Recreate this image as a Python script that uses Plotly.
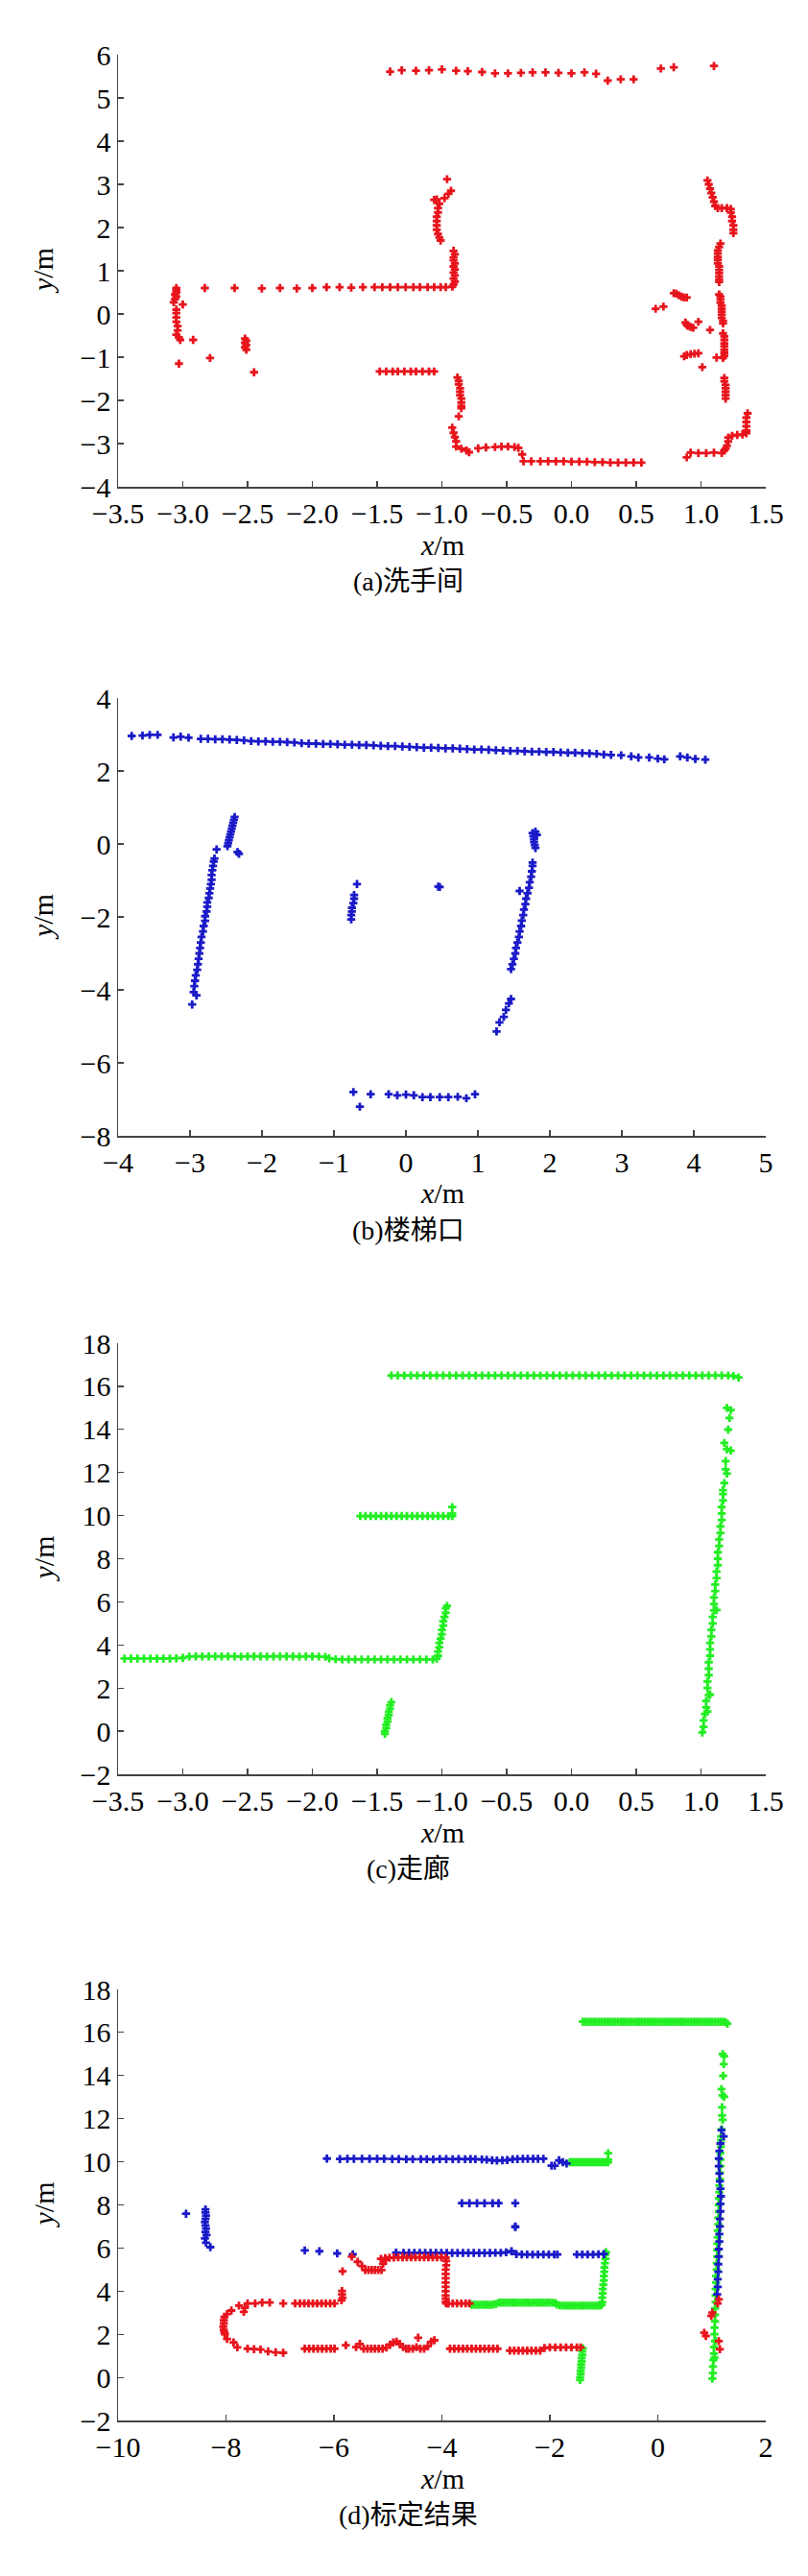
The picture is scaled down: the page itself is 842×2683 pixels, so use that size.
import plotly.graph_objects as go

# ---------------- (a) 洗手间 (red) ----------------
WASH_TOP_X = [-1.40,-1.31,-1.20,-1.10,-1.00,-0.89,-0.80,-0.69,-0.59,-0.49,-0.39,-0.30,-0.20,-0.10,0.00,0.10,0.19,0.28,0.38,0.48,0.69,0.79,1.10]
WASH_TOP_Y = [5.61,5.64,5.63,5.64,5.66,5.63,5.62,5.60,5.57,5.57,5.58,5.59,5.59,5.58,5.57,5.59,5.56,5.40,5.43,5.43,5.68,5.71,5.74]
WASH_LW_X = [-3.05,-3.05,-3.05,-3.06,-3.05,-3.06,-3.07,-3.00,-3.05,-3.05,-3.05,-3.05,-3.04,-3.04,-3.05,-3.03,-3.02,-2.92,-3.03,-2.79]
WASH_LW_Y = [0.60,0.55,0.50,0.45,0.40,0.34,0.27,0.22,0.10,0.02,-0.08,-0.18,-0.28,-0.38,-0.48,-0.54,-0.60,-0.60,-1.15,-1.02]
WASH_LO_X = [-2.52,-2.51,-2.52,-2.51,-2.52,-2.51,-2.45]
WASH_LO_Y = [-0.57,-0.62,-0.67,-0.72,-0.77,-0.83,-1.35]
WASH_MR_X = [-2.83,-2.60,-2.39,-2.25,-2.12,-2.00,-1.89,-1.79,-1.70,-1.61,-1.52,-1.46,-1.40,-1.34,-1.28,-1.22,-1.17,-1.11,-1.06,-1.01,-0.97,-0.92]
WASH_MR_Y = [0.60,0.60,0.59,0.60,0.59,0.60,0.62,0.62,0.61,0.62,0.62,0.62,0.62,0.62,0.62,0.62,0.62,0.62,0.62,0.62,0.62,0.63]
WASH_MC_X = [-0.91,-0.90,-0.91,-0.90,-0.91,-0.90,-0.91,-0.90,-0.91,-0.91,-0.90,-0.91]
WASH_MC_Y = [0.68,0.75,0.82,0.89,0.96,1.03,1.10,1.17,1.24,1.31,1.38,1.46]
WASH_UC_X = [-1.06,-1.04,-1.02,-1.03,-1.03,-1.04,-1.04,-1.04,-1.04,-1.03,-1.02,-1.01,-0.98,-0.95,-0.93,-0.96]
WASH_UC_Y = [2.64,2.65,2.55,2.45,2.35,2.25,2.15,2.05,1.95,1.85,1.77,1.70,2.68,2.78,2.85,3.12]
WASH_LR_X = [-1.48,-1.43,-1.38,-1.34,-1.29,-1.24,-1.20,-1.15,-1.10,-1.06]
WASH_LR_Y = [-1.33,-1.33,-1.33,-1.33,-1.33,-1.33,-1.33,-1.33,-1.33,-1.33]
WASH_LC_X = [-0.88,-0.87,-0.87,-0.86,-0.86,-0.86,-0.85,-0.85,-0.85,-0.85,-0.87,-0.92,-0.91,-0.90,-0.89,-0.89,-0.85,-0.81,-0.79]
WASH_LC_Y = [-1.47,-1.55,-1.63,-1.72,-1.80,-1.88,-1.96,-2.05,-2.13,-2.18,-2.37,-2.63,-2.75,-2.85,-2.95,-3.07,-3.12,-3.16,-3.20]
WASH_BT_X = [-0.72,-0.66,-0.59,-0.54,-0.49,-0.44,-0.41,-0.38,-0.37,-0.31,-0.24,-0.18,-0.12,-0.06,0.00,0.06,0.12,0.18,0.24,0.30,0.36,0.42,0.48,0.54]
WASH_BT_Y = [-3.11,-3.09,-3.08,-3.07,-3.07,-3.08,-3.10,-3.25,-3.41,-3.41,-3.41,-3.41,-3.41,-3.41,-3.42,-3.42,-3.42,-3.43,-3.43,-3.44,-3.44,-3.44,-3.44,-3.44]
WASH_RT_X = [1.05,1.06,1.07,1.08,1.09,1.10,1.11,1.13,1.16,1.20,1.23,1.23,1.24,1.24,1.25,1.25,1.25]
WASH_RT_Y = [3.09,3.00,2.90,2.80,2.70,2.60,2.50,2.45,2.45,2.45,2.43,2.35,2.25,2.15,2.05,1.95,1.87]
WASH_R1_X = [1.15,1.14,1.13,1.13,1.13,1.13,1.13,1.14,1.14,1.14,1.14,1.14,1.14]
WASH_R1_Y = [1.63,1.55,1.47,1.40,1.32,1.25,1.17,1.10,1.02,0.95,0.87,0.80,0.74]
WASH_R2_X = [1.14,1.15,1.15,1.15,1.16,1.16,1.16,1.16,1.16,1.17,1.17]
WASH_R2_Y = [0.45,0.40,0.33,0.26,0.19,0.12,0.05,-0.02,-0.09,-0.16,-0.22]
WASH_R3_X = [1.17,1.18,1.18,1.18,1.18,1.18,1.18,1.18,1.17,1.12]
WASH_R3_Y = [-0.45,-0.52,-0.60,-0.68,-0.75,-0.83,-0.90,-0.97,-1.02,-1.01]
WASH_R4_X = [1.18,1.18,1.19,1.19,1.19,1.19,1.19]
WASH_R4_Y = [-1.48,-1.56,-1.64,-1.72,-1.80,-1.88,-1.96]
WASH_RB_X = [1.36,1.35,1.35,1.35,1.35,1.35,1.32,1.28,1.24,1.21,1.21,1.20,1.19,1.18,1.16,1.10,1.04,0.98,0.92,0.89]
WASH_RB_Y = [-2.30,-2.40,-2.50,-2.60,-2.70,-2.76,-2.79,-2.80,-2.82,-2.86,-2.95,-3.05,-3.12,-3.16,-3.22,-3.21,-3.22,-3.22,-3.21,-3.32]
WASH_OB_X = [0.79,0.81,0.83,0.85,0.87,0.89,0.65,0.71,0.88,0.89,0.90,0.92,0.94,0.98,1.07,0.87,0.89,0.92,0.95,0.98,1.01]
WASH_OB_Y = [0.48,0.47,0.43,0.40,0.38,0.38,0.12,0.17,-0.20,-0.25,-0.28,-0.30,-0.32,-0.18,-0.37,-0.98,-0.95,-0.93,-0.92,-0.91,-1.23]

# ---------------- (b) 楼梯口 (blue) ----------------
STAIR_TL_X = [-3.81,-3.66,-3.56,-3.45,-3.23,-3.13,-3.02]
STAIR_TL_Y = [2.96,2.97,2.99,2.99,2.92,2.94,2.91]
STAIR_TD_X = [-2.85,-2.75,-2.65,-2.55,-2.45,-2.35,-2.25,-2.15,-2.05,-1.95,-1.85,-1.75,-1.65,-1.55,-1.45,-1.35,-1.25,-1.15,-1.05,-0.95,
              -0.85,-0.75,-0.65,-0.55,-0.45,-0.35,-0.25,-0.15,-0.05,0.05,0.15,0.25,0.35,0.45,0.55,0.65,0.75,0.85,0.95,1.05,
              1.15,1.25,1.35,1.45,1.55,1.65,1.75,1.85,1.95,2.05,2.15,2.25,2.35,2.45,2.55,2.65,2.75,2.85]
STAIR_TD_Y = [2.88,2.88,2.87,2.87,2.86,2.85,2.84,2.82,2.81,2.81,2.80,2.80,2.79,2.78,2.76,2.75,2.75,2.74,2.74,2.73,
              2.72,2.72,2.71,2.71,2.70,2.69,2.68,2.68,2.67,2.66,2.65,2.64,2.64,2.63,2.62,2.62,2.61,2.60,2.59,2.59,
              2.58,2.57,2.56,2.55,2.55,2.54,2.53,2.53,2.52,2.52,2.51,2.50,2.50,2.49,2.48,2.47,2.45,2.44]
STAIR_TR_X = [2.99,3.13,3.23,3.38,3.50,3.59,3.81,3.91,4.02,4.16]
STAIR_TR_Y = [2.43,2.40,2.37,2.37,2.34,2.32,2.40,2.37,2.33,2.31]
STAIR_LL_X = [-2.97,-2.91,-2.95,-2.94,-2.93,-2.92,-2.90,-2.89,-2.88,-2.87,-2.86,-2.85,-2.84,-2.82,-2.81,-2.79,-2.79,-2.77,-2.76,-2.76,
              -2.74,-2.73,-2.72,-2.71,-2.70,-2.70,-2.69,-2.68,-2.67,-2.66,-2.63]
STAIR_LL_Y = [-4.40,-4.15,-4.06,-3.90,-3.75,-3.60,-3.45,-3.30,-3.15,-3.00,-2.85,-2.70,-2.55,-2.40,-2.25,-2.11,-1.98,-1.85,-1.72,-1.60,
              -1.48,-1.35,-1.22,-1.10,-0.98,-0.85,-0.72,-0.60,-0.48,-0.40,-0.15]
STAIR_UL_X = [-2.48,-2.47,-2.46,-2.45,-2.44,-2.43,-2.42,-2.41,-2.40,-2.39,-2.38,-2.34,-2.32]
STAIR_UL_Y = [-0.06,0.02,0.10,0.18,0.26,0.34,0.42,0.50,0.58,0.66,0.74,-0.22,-0.27]
STAIR_MD_X = [-0.76,-0.76,-0.75,-0.75,-0.73,-0.72,-0.72,-0.68,0.45,0.47]
STAIR_MD_Y = [-2.07,-1.95,-1.85,-1.75,-1.62,-1.50,-1.40,-1.10,-1.17,-1.18]
STAIR_RL_X = [1.46,1.48,1.50,1.52,1.53,1.55,1.57,1.58,1.60,1.61,1.63,1.64,1.66,1.67,1.69,1.71,1.72,1.74,1.75,1.76,1.76,1.58]
STAIR_RL_Y = [-3.43,-3.30,-3.15,-3.00,-2.85,-2.70,-2.55,-2.40,-2.25,-2.10,-1.95,-1.80,-1.65,-1.50,-1.35,-1.20,-1.05,-0.90,-0.75,-0.60,-0.51,-1.29]
STAIR_RU_X = [1.80,1.79,1.78,1.78,1.77,1.76,1.80,1.82]
STAIR_RU_Y = [-0.11,-0.03,0.05,0.13,0.21,0.30,0.34,0.25]
STAIR_RLO_X = [1.26,1.30,1.36,1.39,1.43,1.46]
STAIR_RLO_Y = [-5.14,-4.89,-4.74,-4.55,-4.37,-4.25]
STAIR_BT_X = [-0.73,-0.64,-0.49,-0.24,-0.12,0.00,0.11,0.23,0.34,0.47,0.59,0.72,0.84,0.96]
STAIR_BT_Y = [-6.80,-7.20,-6.86,-6.86,-6.89,-6.87,-6.89,-6.94,-6.94,-6.94,-6.94,-6.93,-6.97,-6.86]

# ---------------- (c) 走廊 (green) ----------------
CORR_TOP_X = [-1.39,-1.34,-1.29,-1.24,-1.19,-1.14,-1.09,-1.04,-0.99,-0.94,-0.89,-0.84,-0.79,-0.74,-0.69,-0.64,-0.59,-0.54,-0.49,-0.44,
              -0.39,-0.34,-0.29,-0.24,-0.19,-0.14,-0.09,-0.04,0.01,0.06,0.11,0.16,0.21,0.26,0.31,0.36,0.41,0.46,0.51,0.56,
              0.61,0.66,0.71,0.76,0.81,0.86,0.91,0.96,1.01,1.06,1.11,1.16,1.21,1.25,1.29]
CORR_TOP_Y = [16.50,16.50,16.50,16.50,16.50,16.50,16.50,16.50,16.50,16.50,16.50,16.50,16.50,16.50,16.50,16.50,16.50,16.50,16.50,16.50,
              16.50,16.50,16.50,16.50,16.50,16.50,16.50,16.50,16.50,16.50,16.50,16.50,16.50,16.50,16.50,16.50,16.50,16.50,16.50,16.50,
              16.50,16.50,16.50,16.50,16.50,16.50,16.50,16.50,16.50,16.50,16.50,16.50,16.50,16.48,16.41]
CORR_R10_X = [-1.63,-1.59,-1.55,-1.51,-1.47,-1.43,-1.39,-1.35,-1.31,-1.27,-1.23,-1.19,-1.15,-1.11,-1.07,-1.03,-0.99,-0.95,-0.92,-0.92,-0.92]
CORR_R10_Y = [9.98,9.98,9.98,9.98,9.98,9.98,9.98,9.98,9.98,9.98,9.98,9.98,9.98,9.98,9.98,9.98,9.98,9.98,9.98,10.10,10.40]
CORR_R3A_X = [-3.45,-3.40,-3.35,-3.30,-3.25,-3.20,-3.15,-3.10,-3.05,-3.00]
CORR_R3A_Y = [3.37,3.37,3.37,3.37,3.37,3.37,3.37,3.37,3.38,3.40]
CORR_R3B_X = [-2.95,-2.90,-2.85,-2.80,-2.75,-2.70,-2.65,-2.60,-2.55,-2.50,-2.45,-2.40,-2.35,-2.30,-2.25,-2.20,-2.15,-2.10,-2.05,-2.00,-1.95,-1.90]
CORR_R3B_Y = [3.46,3.47,3.47,3.47,3.47,3.47,3.47,3.47,3.46,3.47,3.47,3.47,3.46,3.47,3.47,3.47,3.47,3.46,3.47,3.47,3.46,3.45]
CORR_R3C_X = [-1.87,-1.82,-1.77,-1.72,-1.67,-1.62,-1.57,-1.52,-1.47,-1.42,-1.37,-1.32,-1.27,-1.22,-1.17,-1.12,-1.07,-1.04]
CORR_R3C_Y = [3.38,3.34,3.33,3.33,3.33,3.33,3.33,3.33,3.33,3.33,3.33,3.33,3.33,3.33,3.33,3.33,3.33,3.36]
CORR_SL_X = [-1.03,-1.03,-1.02,-1.02,-1.01,-1.00,-1.00,-0.99,-0.99,-0.98,-0.97,-0.97,-0.96]
CORR_SL_Y = [3.50,3.70,3.90,4.10,4.30,4.50,4.70,4.90,5.10,5.30,5.50,5.70,5.81]
CORR_SH_X = [-1.44,-1.44,-1.43,-1.43,-1.42,-1.42,-1.41,-1.41,-1.40,-1.40,-1.39]
CORR_SH_Y = [-0.12,0.00,0.15,0.30,0.45,0.60,0.75,0.90,1.05,1.20,1.35]
CORR_RL_X = [1.01,1.02,1.02,1.03,1.05,1.04,1.04,1.06,1.07,1.05,1.05,1.06,1.06,1.06,1.07,1.07,1.07,1.08,1.08,1.09,
             1.09,1.12,1.10,1.10,1.10,1.11,1.11,1.12,1.12,1.13,1.13,1.13,1.14,1.14,1.15,1.15,1.16,1.16,1.16,1.17,1.17]
CORR_RL_Y = [-0.06,0.20,0.50,0.80,0.91,1.10,1.40,1.68,1.70,2.00,2.30,2.60,2.90,3.20,3.50,3.80,4.10,4.40,4.70,5.00,
             5.30,5.62,5.60,5.90,6.20,6.50,6.80,7.10,7.40,7.70,8.00,8.30,8.60,8.90,9.20,9.50,9.80,10.10,10.40,10.70,11.00]
CORR_RS_X = [1.17,1.18,1.20,1.19,1.19,1.23,1.20,1.18,1.21,1.22,1.20,1.23]
CORR_RS_Y = [11.18,11.51,11.95,12.15,12.53,13.02,13.08,13.37,13.99,14.53,15.00,14.90]

# ---------------- (d) 标定结果 ----------------
CAL_B10_X = [-6.13,-5.89,-5.75,-5.63,-5.48,-5.34,-5.20,-5.07,-4.92,-4.80,-4.66,-4.54,-4.39,-4.28,-4.16,-4.04,-3.92,-3.80,-3.69,-3.57,
             -3.47,-3.38,-3.26,-3.17,-3.07,-2.98,-2.88,-2.79,-2.69,-2.60,-2.50,-2.41,-2.31,-2.22,-2.12,-1.97,-1.91,-1.83,-1.76,-1.69]
CAL_B10_Y = [10.15,10.13,10.14,10.14,10.14,10.14,10.14,10.14,10.13,10.13,10.12,10.12,10.12,10.12,10.11,10.13,10.13,10.12,10.13,10.12,
             10.13,10.12,10.11,10.10,10.07,10.06,10.07,10.08,10.12,10.13,10.14,10.14,10.14,10.14,10.14,9.82,9.82,10.07,9.98,9.92]
CAL_B8_X = [-3.63,-3.49,-3.35,-3.21,-3.06,-2.95,-2.64,-2.64,-2.64]
CAL_B8_Y = [8.08,8.08,8.08,8.08,8.08,8.08,8.08,6.97,7.00]
CAL_B6_X = [-6.54,-6.27,-5.94,-5.65,-4.85,-4.71,-4.61,-4.51,-4.41,-4.31,-4.21,-4.11,-4.01,-3.91,-3.81,-3.71,-3.61,-3.51,-3.41,-3.31,
            -3.21,-3.11,-3.01,-2.91,-2.81,-2.71,-2.62,-2.52,-2.42,-2.32,-2.22,-2.12,-2.02,-1.92,-1.86,-1.50,-1.40,-1.30,-1.20,-1.10,-1.00]
CAL_B6_Y = [5.89,5.85,5.75,5.71,5.79,5.77,5.77,5.77,5.77,5.77,5.77,5.77,5.77,5.77,5.77,5.77,5.77,5.77,5.77,5.77,
            5.77,5.77,5.78,5.78,5.80,5.85,5.72,5.70,5.70,5.70,5.70,5.70,5.70,5.70,5.70,5.70,5.70,5.70,5.70,5.71,5.72]
CAL_BL_X = [-8.74,-8.38,-8.38,-8.37,-8.38,-8.39,-8.38,-8.37,-8.38,-8.36,-8.39,-8.37,-8.29]
CAL_BL_Y = [7.59,7.79,7.65,7.50,7.35,7.20,7.05,6.90,6.75,6.60,6.45,6.25,6.04]
CAL_BR_X = [1.10,1.11,1.11,1.12,1.12,1.13,1.13,1.14,1.14,1.15,1.15,1.16,1.16,1.17,1.16,1.15,1.14,1.13,1.13,1.14,1.16,1.22,1.18]
CAL_BR_Y = [3.85,4.20,4.55,4.90,5.25,5.60,5.95,6.30,6.65,7.00,7.35,7.70,8.05,8.40,8.75,9.10,9.45,9.80,10.15,10.50,10.85,11.18,11.47]

CAL_RT_X = [-5.13,-5.05,-4.97,-4.89,-4.81,-4.73,-4.65,-4.57,-4.49,-4.41,-4.33,-4.25,-4.17,-4.09,-4.01,-3.93]
CAL_RT_Y = [5.50,5.53,5.55,5.56,5.57,5.57,5.57,5.57,5.57,5.57,5.57,5.57,5.57,5.57,5.57,5.55]
CAL_RTL_X = [-5.67,-5.56,-5.48,-5.42,-5.36,-5.30,-5.24,-5.18,-5.12,-5.09,-5.04,-5.84]
CAL_RTL_Y = [5.60,5.36,5.17,4.98,4.98,4.98,4.98,4.98,4.98,5.27,5.46,4.92]
CAL_RV_X = [-3.92,-3.92,-3.93,-3.93,-3.93,-3.93,-3.93,-3.93,-3.93,-3.93,-3.93,-3.92,-3.88,-3.80,-3.72,-3.64,-3.56,-3.49]
CAL_RV_Y = [5.40,5.20,5.00,4.80,4.60,4.40,4.20,4.00,3.80,3.65,3.50,3.43,3.42,3.43,3.43,3.43,3.43,3.43]
CAL_RLV_X = [-5.85,-5.85,-5.84,-5.86]
CAL_RLV_Y = [4.01,3.85,3.70,3.58]
CAL_R3_X = [-5.99,-6.07,-6.15,-6.23,-6.31,-6.39,-6.47,-6.55,-6.63,-6.72,-6.94,-7.19,-7.33,-7.46,-7.60]
CAL_R3_Y = [3.43,3.43,3.43,3.43,3.43,3.43,3.43,3.43,3.43,3.43,3.43,3.47,3.47,3.43,3.43]
CAL_RC_X = [-7.65,-7.67,-7.76,-7.90,-7.98,-8.03,-8.04,-8.04,-8.05,-8.04,-8.03,-8.02,-7.98,-7.86,-7.79,-7.60,-7.48,-7.36,-7.22,-7.08,-6.94]
CAL_RC_Y = [3.23,3.04,3.33,3.10,2.94,2.80,2.65,2.50,2.35,2.20,2.08,2.01,1.78,1.62,1.39,1.33,1.31,1.29,1.20,1.16,1.14]
CAL_RB_X = [-6.54,-6.46,-6.38,-6.30,-6.22,-6.14,-6.06,-5.99,-5.78,
            -5.59,-5.52,-5.45,-5.38,-5.31,-5.24,-5.17,-5.10,-5.03,-4.96,
            -4.90,-4.84,-4.78,-4.72,-4.66,-4.61,-4.54,-4.47,-4.44,-4.40,
            -4.33,-4.26,-4.20,-4.14,
            -3.85,-3.77,-3.69,-3.61,-3.53,-3.45,-3.37,-3.29,-3.21,-3.13,-3.05,-2.97,
            -2.74,-2.66,-2.58,-2.50,-2.42,-2.34,-2.26,-2.18,
            -2.10,-2.00,-1.90,-1.80,-1.70,-1.60,-1.50,-1.43]
CAL_RB_Y = [1.33,1.33,1.33,1.33,1.33,1.33,1.33,1.33,1.49,
            1.40,1.55,1.33,1.33,1.33,1.33,1.33,1.33,1.38,1.52,
            1.62,1.66,1.55,1.40,1.33,1.33,1.33,1.40,1.84,1.33,
            1.33,1.45,1.65,1.72,
            1.33,1.33,1.33,1.33,1.33,1.33,1.33,1.33,1.33,1.33,1.33,1.33,
            1.24,1.24,1.24,1.24,1.24,1.24,1.24,1.24,
            1.36,1.39,1.39,1.39,1.39,1.39,1.39,1.39]
CAL_RR_X = [0.86,0.89,0.99,1.01,1.13,1.15,1.11,1.13]
CAL_RR_Y = [2.07,1.92,2.85,3.00,1.68,1.30,3.43,3.62]

RED = "#e8141c"
BLUE = "#1a1ac8"
GREEN = "#22ee22"


def cat(*lists):
    out = []
    for l in lists:
        out.extend(l)
    return out


wash_x = cat(WASH_TOP_X, WASH_LW_X, WASH_LO_X, WASH_MR_X, WASH_MC_X, WASH_UC_X, WASH_LR_X, WASH_LC_X, WASH_BT_X,
             WASH_RT_X, WASH_R1_X, WASH_R2_X, WASH_R3_X, WASH_R4_X, WASH_RB_X, WASH_OB_X)
wash_y = cat(WASH_TOP_Y, WASH_LW_Y, WASH_LO_Y, WASH_MR_Y, WASH_MC_Y, WASH_UC_Y, WASH_LR_Y, WASH_LC_Y, WASH_BT_Y,
             WASH_RT_Y, WASH_R1_Y, WASH_R2_Y, WASH_R3_Y, WASH_R4_Y, WASH_RB_Y, WASH_OB_Y)
stair_x = cat(STAIR_TL_X, STAIR_TD_X, STAIR_TR_X, STAIR_LL_X, STAIR_UL_X, STAIR_MD_X, STAIR_RL_X, STAIR_RU_X, STAIR_RLO_X, STAIR_BT_X)
stair_y = cat(STAIR_TL_Y, STAIR_TD_Y, STAIR_TR_Y, STAIR_LL_Y, STAIR_UL_Y, STAIR_MD_Y, STAIR_RL_Y, STAIR_RU_Y, STAIR_RLO_Y, STAIR_BT_Y)
corr_x = cat(CORR_TOP_X, CORR_R10_X, CORR_R3A_X, CORR_R3B_X, CORR_R3C_X, CORR_SL_X, CORR_SH_X, CORR_RL_X, CORR_RS_X)
corr_y = cat(CORR_TOP_Y, CORR_R10_Y, CORR_R3A_Y, CORR_R3B_Y, CORR_R3C_Y, CORR_SL_Y, CORR_SH_Y, CORR_RL_Y, CORR_RS_Y)
calb_x = cat(CAL_B10_X, CAL_B8_X, CAL_B6_X, CAL_BL_X, CAL_BR_X)
calb_y = cat(CAL_B10_Y, CAL_B8_Y, CAL_B6_Y, CAL_BL_Y, CAL_BR_Y)
calr_x = cat(CAL_RT_X, CAL_RTL_X, CAL_RV_X, CAL_RLV_X, CAL_R3_X, CAL_RC_X, CAL_RB_X, CAL_RR_X)
calr_y = cat(CAL_RT_Y, CAL_RTL_Y, CAL_RV_Y, CAL_RLV_Y, CAL_R3_Y, CAL_RC_Y, CAL_RB_Y, CAL_RR_Y)

W, H = 842, 2683
X0, X1 = 123, 798
PANELS = [  # (top px, bottom px)
    (57, 507), (727, 1183), (1399, 1848), (2072, 2521)
]
CAPTIONS = ["(a)洗手间", "(b)楼梯口", "(c)走廊", "(d)标定结果"]
XRANGES = [[-3.5, 1.5], [-4, 5], [-3.5, 1.5], [-10, 2]]
YRANGES = [[-4, 6], [-8, 4], [-2, 18], [-2, 18]]
XDT = [0.5, 1, 0.5, 2]
YDT = [1, 2, 2, 2]
XFMT = [".1f", "d", ".1f", "d"]

fig = go.Figure()


def mk(color):
    return dict(symbol="cross", size=7, color=color, line=dict(width=0))


axes = ["", "2", "3", "4"]
fig.add_trace(go.Scatter(x=wash_x, y=wash_y, mode="markers", marker=mk(RED), xaxis="x", yaxis="y", showlegend=False))
fig.add_trace(go.Scatter(x=stair_x, y=stair_y, mode="markers", marker=mk(BLUE), xaxis="x2", yaxis="y2", showlegend=False))
fig.add_trace(go.Scatter(x=corr_x, y=corr_y, mode="markers", marker=mk(GREEN), xaxis="x3", yaxis="y3", showlegend=False))
fig.add_trace(go.Scatter(x=corr_x, y=corr_y, mode="markers", marker=mk(GREEN), xaxis="x4", yaxis="y4", showlegend=False))
fig.add_trace(go.Scatter(x=calb_x, y=calb_y, mode="markers", marker=mk(BLUE), xaxis="x4", yaxis="y4", showlegend=False))
fig.add_trace(go.Scatter(x=calr_x, y=calr_y, mode="markers", marker=mk(RED), xaxis="x4", yaxis="y4", showlegend=False))

FONT = "Liberation Serif"
CAPFONT = "Liberation Serif, Noto Sans CJK SC"
LINEC = "#444444"

layout = dict(width=W, height=H, margin=dict(l=0, r=0, t=0, b=0), paper_bgcolor="white", plot_bgcolor="white",
              showlegend=False)
annotations = []
for i, (top, bot) in enumerate(PANELS):
    s = axes[i]
    xa = dict(domain=[X0 / W, X1 / W], range=XRANGES[i], dtick=XDT[i], tick0=0, tickformat=XFMT[i],
              showline=True, linecolor=LINEC, linewidth=1.5, ticks="inside", ticklen=6, tickcolor=LINEC,
              tickwidth=1.2, showgrid=False, zeroline=False, tickfont=dict(family=FONT, size=30, color="black"),
              anchor="y" + s, fixedrange=True, automargin=False)
    ya = dict(domain=[1 - bot / H, 1 - top / H], range=YRANGES[i], dtick=YDT[i], tick0=0,
              showline=True, linecolor=LINEC, linewidth=1.5, ticks="inside", ticklen=6, tickcolor=LINEC,
              tickwidth=1.2, showgrid=False, zeroline=False, tickfont=dict(family=FONT, size=30, color="black"),
              anchor="x" + s, fixedrange=True, automargin=False)
    layout["xaxis" + s] = xa
    layout["yaxis" + s] = ya
    annotations.append(dict(text="<i>x</i>/m", x=(X0 + X1) / 2 / W, y=1 - (bot + 60) / H, xref="paper", yref="paper",
                            showarrow=False, xanchor="center", yanchor="middle",
                            font=dict(family=FONT, size=30, color="black")))
    annotations.append(dict(text="<i>y</i>/m", x=45 / W, y=1 - (top + bot) / 2 / H, xref="paper", yref="paper",
                            showarrow=False, xanchor="center", yanchor="middle", textangle=-90,
                            font=dict(family=FONT, size=30, color="black")))
    annotations.append(dict(text=CAPTIONS[i], x=425 / W, y=1 - (bot + 98) / H, xref="paper", yref="paper",
                            showarrow=False, xanchor="center", yanchor="middle",
                            font=dict(family=CAPFONT, size=28, color="black")))
layout["annotations"] = annotations
fig.update_layout(**layout)
fig.write_html("out.html", config={"displayModeBar": False, "staticPlot": True},
               post_script="document.body.style.margin='0';document.body.style.overflow='hidden';")
